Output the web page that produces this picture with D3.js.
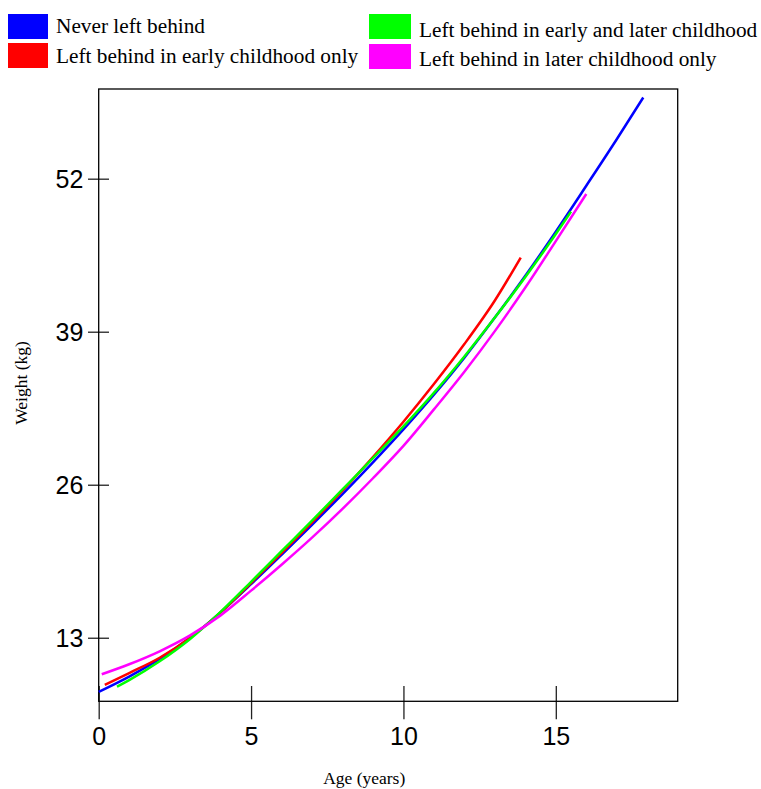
<!DOCTYPE html>
<html>
<head>
<meta charset="utf-8">
<script src="https://d3js.org/d3.v7.min.js"></script>
<style>
  body { margin: 0; background: #fff; }
</style>
</head>
<body>
<div id="chart"></div>
<script>
// data (age in years, weight in kg)
var neverAge = [0, 1, 2, 3, 4, 5, 6, 7, 8, 9, 10, 11, 12, 13, 14, 15, 16, 17, 17.87];
var neverWeight = [8.4, 9.7, 11.2, 13.0, 15.15, 17.55, 20.05, 22.6, 25.2, 27.9, 30.7, 33.65, 36.8, 40.2, 43.75, 47.5, 51.4, 55.35, 58.9];

var earlyAge = [0.2, 1, 2, 3, 4, 5, 6, 7, 8, 9, 10, 11, 12, 13, 13.85];
var earlyWeight = [9.0, 10.0, 11.3, 13.0, 15.15, 17.65, 20.2, 22.8, 25.5, 28.35, 31.35, 34.55, 37.95, 41.65, 45.3];

var bothAge = [0.6, 1, 2, 3, 4, 5, 6, 7, 8, 9, 10, 11, 12, 13, 14, 15, 15.5];
var bothWeight = [8.84, 9.4, 11.0, 12.9, 15.2, 17.75, 20.35, 22.95, 25.6, 28.25, 30.95, 33.8, 36.9, 40.2, 43.65, 47.3, 49.2];

var laterAge = [0.1, 1, 2, 3, 4, 5, 6, 7, 8, 9, 10, 11, 12, 13, 14, 15, 16];
var laterWeight = [9.9, 10.75, 11.85, 13.2, 14.9, 17.0, 19.2, 21.5, 23.95, 26.55, 29.3, 32.4, 35.6, 39.05, 42.75, 46.7, 50.7];

var seriesNames = [
  "Never left behind",
  "Left behind in early childhood only",
  "Left behind in early and later childhood",
  "Left behind in later childhood only"
];
var seriesColors = ["#0000ff", "#ff0000", "#00ff00", "#ff00ff"];

var xTicks = [0, 5, 10, 15];
var yTicks = [13, 26, 39, 52];

// build series from the arrays
function zipSeries(ages, weights) {
  return ages.map(function (a, i) {
    return { age: a, weight: weights[i] };
  });
}
var series = [
  zipSeries(neverAge, neverWeight),
  zipSeries(earlyAge, earlyWeight),
  zipSeries(bothAge, bothWeight),
  zipSeries(laterAge, laterWeight)
];

// dimensions
var W = 761, H = 789;
var plot = { left: 98.7, right: 677.7, top: 89, bottom: 701.3 };

var svg = d3
  .select("#chart")
  .append("svg")
  .attr("width", W)
  .attr("height", H);

var x = d3.scaleLinear().domain([0, 19]).range([plot.left, plot.right]);
var y = d3.scaleLinear().domain([7.6, 59.62]).range([plot.bottom, plot.top]);

// X axis (ticks cross the frame line)
var xAxis = svg
  .append("g")
  .attr("transform", "translate(0," + plot.bottom + ")")
  .call(d3.axisBottom(x).tickValues(xTicks).tickSize(18).tickFormat(d3.format("d")));
xAxis.select(".domain").remove();
xAxis.selectAll("line").attr("y1", -15.3).attr("stroke", "#222").attr("stroke-width", 1.3);
xAxis
  .selectAll("text")
  .attr("y", 43.7)
  .attr("dy", 0)
  .attr("fill", "#000")
  .style("font-family", "'Liberation Sans', Arial, sans-serif")
  .style("font-size", "25px");

// Y axis
var yAxis = svg
  .append("g")
  .attr("transform", "translate(" + plot.left + ",0)")
  .call(d3.axisLeft(y).tickValues(yTicks).tickSize(10.7));
yAxis.select(".domain").remove();
yAxis.selectAll("line").attr("x1", 10.3).attr("stroke", "#222").attr("stroke-width", 1.3);
yAxis
  .selectAll("text")
  .attr("x", -15.4)
  .attr("dy", "0.36em")
  .attr("fill", "#000")
  .style("font-family", "'Liberation Sans', Arial, sans-serif")
  .style("font-size", "25px");

// frame
svg
  .append("rect")
  .attr("x", plot.left)
  .attr("y", plot.top)
  .attr("width", plot.right - plot.left)
  .attr("height", plot.bottom - plot.top)
  .attr("fill", "none")
  .attr("stroke", "#000")
  .attr("stroke-width", 1.3);

// curves
var line = d3
  .line()
  .x(function (d) { return x(d.age); })
  .y(function (d) { return y(d.weight); })
  .curve(d3.curveMonotoneX);

svg
  .selectAll(".curve")
  .data(series)
  .enter()
  .append("path")
  .attr("class", "curve")
  .attr("d", line)
  .attr("fill", "none")
  .attr("stroke", function (d, i) { return seriesColors[i]; })
  .attr("stroke-width", 2.5);

// axis titles
svg
  .append("text")
  .attr("x", (plot.left + plot.right) / 2 - 24)
  .attr("y", 784)
  .attr("text-anchor", "middle")
  .style("font-family", "'Liberation Serif', 'Times New Roman', serif")
  .style("font-size", "17.5px")
  .text("Age (years)");

svg
  .append("text")
  .attr("transform", "translate(27," + 383 + ")rotate(-90)")
  .attr("text-anchor", "middle")
  .style("font-family", "'Liberation Serif', 'Times New Roman', serif")
  .style("font-size", "17.5px")
  .text("Weight (kg)");

// legend: two columns, two rows
var legendPos = [
  { bx: 8, by: 14, tx: 56, ty: 33 },
  { bx: 8, by: 43, tx: 56, ty: 63 },
  { bx: 369, by: 14, tx: 419, ty: 37 },
  { bx: 369, by: 44, tx: 419, ty: 66 }
];

var legend = svg
  .selectAll(".legend")
  .data(seriesNames)
  .enter()
  .append("g")
  .attr("class", "legend");

legend
  .append("rect")
  .attr("x", function (d, i) { return legendPos[i].bx; })
  .attr("y", function (d, i) { return legendPos[i].by; })
  .attr("width", function (d, i) { return i < 2 ? 40 : 42; })
  .attr("height", 25)
  .attr("fill", function (d, i) { return seriesColors[i]; });

legend
  .append("text")
  .attr("x", function (d, i) { return legendPos[i].tx; })
  .attr("y", function (d, i) { return legendPos[i].ty; })
  .style("font-family", "'Liberation Serif', 'Times New Roman', serif")
  .style("font-size", "21.3px")
  .text(function (d) { return d; });
</script>
</body>
</html>
